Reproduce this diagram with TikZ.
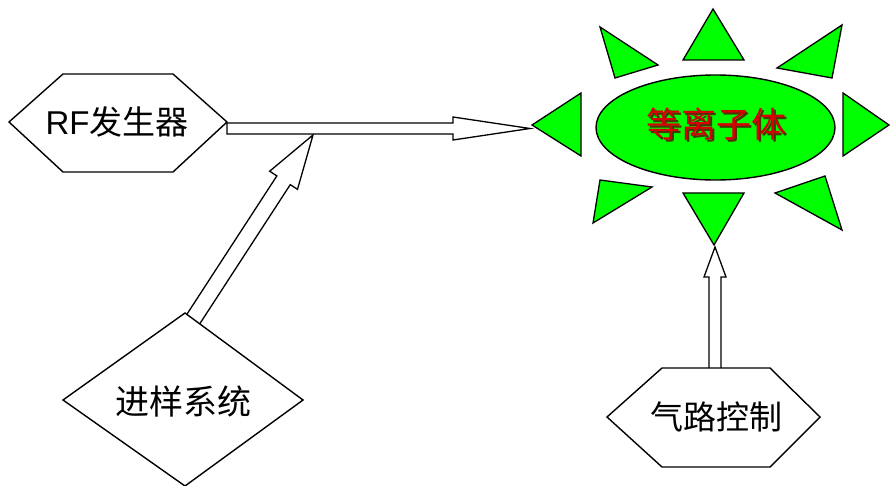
\documentclass[tikz,border=0pt]{standalone}
\usepackage{fontspec}
\setmainfont{Liberation Sans}
\newfontfamily\cjk{Noto Sans CJK SC}
\usetikzlibrary{calc,shapes.geometric}
\definecolor{raygreen}{RGB}{0,255,0}
\definecolor{plasmared}{RGB}{215,0,0}
\definecolor{plasmashadow}{RGB}{70,55,0}
\newcommand\blockarr[5]{%
  \coordinate (hb) at ($(#2)!#5!(#1)$);
  \draw[blockarrow] ($(#1)!#3!90:(#2)$) -- ($(hb)!#3!90:(#2)$) -- ($(hb)!#4!90:(#2)$) -- (#2)
    -- ($(hb)!#4!-90:(#2)$) -- ($(hb)!#3!-90:(#2)$) -- ($(#1)!#3!-90:(#2)$) -- cycle;}
\newcommand\shadowtext[1]{\makebox[0pt][l]{\hspace{2.2pt}\raisebox{-2.2pt}{\textcolor{plasmashadow}{#1}}}\textcolor{plasmared}{#1}}
\begin{document}
\begin{tikzpicture}[x=1pt,y=-1pt,line join=miter,
  shapeline/.style={draw=black,line width=1.4pt,fill=white},
  ray/.style={draw=black,line width=1.3pt,fill=raygreen},
  blockarrow/.style={draw=black,line width=1.3pt,fill=white},
  lbl/.style={font=\fontsize{33}{33}\selectfont,text=black,inner sep=0pt}]
\useasboundingbox (0,0) rectangle (890,486);
% key points
\coordinate (rf-out) at (227,128.5);
\coordinate (pl-in) at (530,128.5);
\coordinate (junction) at (313,135);
\coordinate (samp-top) at (194,318);
\coordinate (samp-in) at ($(junction)!1.05!(samp-top)$);
\coordinate (gas-top) at (715,372);
\coordinate (pl-bottom) at (715,247);
% connectors
\blockarr{samp-in}{junction}{8pt}{16.6pt}{54pt}
\blockarr{rf-out}{pl-in}{5.5pt}{11.5pt}{77pt}
\blockarr{gas-top}{pl-bottom}{6pt}{11pt}{30pt}
% RF generator
\draw[shapeline] (9,122) -- (63,74) -- (173,74) -- (227,122) -- (173,172) -- (63,172) -- cycle;
\node[lbl] (rf) at (117,122) {RF{\cjk 发生器}};
% sampling system
\draw[shapeline] (185,313) -- (303,400) -- (185,486) -- (63,400) -- cycle;
\node[lbl,font=\fontsize{34}{34}\selectfont\cjk] (samp) at (183,401) {进样系统};
% gas control
\draw[shapeline] (607,417) -- (662,368) -- (770,368) -- (820,417) -- (770,467) -- (662,467) -- cycle;
\node[lbl,font=\fontsize{33}{33}\selectfont\cjk] (gas) at (716,417) {气路控制};
% plasma
\node[ellipse,draw=black,line width=1.4pt,fill=raygreen,minimum width=239pt,minimum height=105pt,inner sep=0pt] (plasma) at (715.5,127.5) {};
\node[font=\fontsize{35}{35}\selectfont\cjk,inner sep=0pt] (pltext) at (716,125) {\shadowtext{等离子体}};
% rays
\draw[ray] (683,60) -- (744,60) -- (713,9) -- cycle;
\draw[ray] (600,27) -- (658,65) -- (615,78) -- cycle;
\draw[ray] (842,25) -- (777,68) -- (832,78) -- cycle;
\draw[ray] (532,125) -- (581,93) -- (581,156) -- cycle;
\draw[ray] (843,93) -- (843,156) -- (889,125) -- cycle;
\draw[ray] (600,180) -- (652,187) -- (593,223) -- cycle;
\draw[ray] (683,193) -- (744,193) -- (714,245) -- cycle;
\draw[ray] (825,176) -- (775,193) -- (842,230) -- cycle;
\end{tikzpicture}
\end{document}
